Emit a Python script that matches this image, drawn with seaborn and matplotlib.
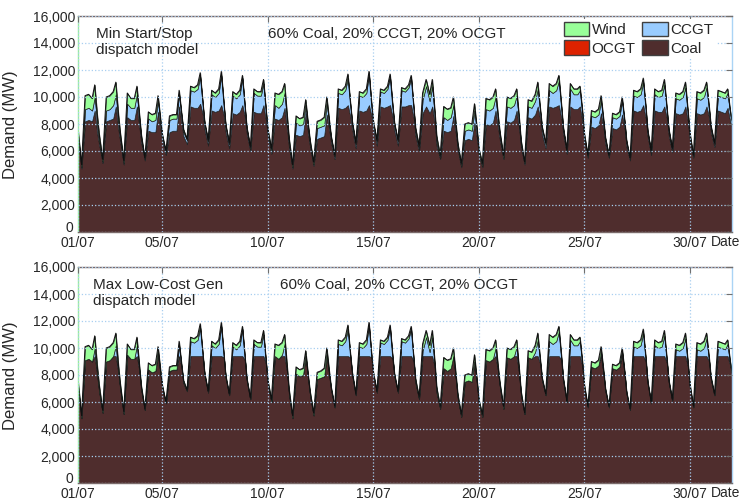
import numpy as np
import pandas as pd
import matplotlib
matplotlib.use('Agg')
from matplotlib import pyplot as plt
from matplotlib.patches import Patch
from matplotlib.ticker import FuncFormatter
from matplotlib.transforms import blended_transform_factory
import seaborn as sns

# knot hours within each day (01/07 .. 31/07), values in MW
hours = [0, 4, 8, 12, 16, 19, 22]

coal_min = [
    [6800, 4700, 8200, 8300, 8200, 9000, 7300],
    [6500, 5100, 8200, 8300, 8400, 9300, 7600],
    [6700, 5000, 8500, 8300, 8300, 9300, 7700],
    [6600, 5300, 7500, 7400, 7400, 8900, 7600],
    [6700, 5700, 7400, 7500, 7500, 9300, 8000],
    [7100, 6500, 9300, 9200, 9200, 9500, 8700],
    [7600, 6400, 9000, 8900, 9000, 9400, 8600],
    [7400, 6200, 8800, 8700, 8900, 9400, 8500],
    [7300, 6000, 8900, 8800, 8800, 9400, 8200],
    [7000, 5800, 8400, 8300, 8500, 9200, 7600],
    [6300, 4700, 7200, 7100, 7200, 8800, 7200],
    [6300, 4900, 6900, 7000, 7100, 8700, 7500],
    [6600, 5400, 9200, 9100, 9200, 9400, 8500],
    [7600, 6200, 9000, 8900, 9000, 9400, 8600],
    [7600, 6400, 9300, 9200, 9300, 9400, 8500],
    [7500, 6400, 9300, 9300, 9400, 9400, 8400],
    [7100, 6000, 8800, 9300, 8800, 9300, 8000],
    [6400, 5400, 7500, 7400, 7500, 8600, 7200],
    [6100, 4800, 6800, 6900, 6800, 8100, 6900],
    [5700, 4800, 8000, 7900, 8100, 9000, 7700],
    [6800, 5400, 8200, 8100, 8300, 9000, 7600],
    [6300, 5000, 8500, 8400, 8700, 9300, 8300],
    [7200, 6200, 9300, 9200, 9300, 9400, 8400],
    [7300, 5800, 9300, 9100, 9100, 9300, 8100],
    [6700, 5500, 7800, 7700, 7900, 8800, 7600],
    [6500, 5500, 7700, 7600, 7800, 8700, 7600],
    [6300, 5300, 9000, 8900, 9000, 9400, 8400],
    [7100, 5700, 9000, 8900, 8900, 9300, 8400],
    [7200, 5900, 8800, 8700, 8800, 9300, 8100],
    [6800, 5500, 8800, 8700, 8800, 9300, 8500],
    [7400, 6300, 9000, 8900, 8800, 9200, 8200],
]
coal_min_end = 7800

ccgt_min = [
    [300, 100, 900, 900, 800, 1000, 600],
    [300, 100, 800, 800, 1000, 900, 500],
    [300, 100, 1000, 900, 900, 900, 500],
    [300, 100, 900, 800, 900, 800, 400],
    [300, 200, 900, 900, 900, 900, 500],
    [300, 300, 1200, 1200, 1400, 2000, 700],
    [400, 300, 1200, 1100, 1300, 2200, 700],
    [400, 300, 1300, 1200, 1300, 2000, 600],
    [300, 200, 1400, 1300, 1300, 1600, 600],
    [300, 200, 1000, 900, 1000, 1100, 500],
    [300, 100, 900, 800, 800, 600, 400],
    [200, 100, 800, 800, 800, 800, 400],
    [300, 200, 1100, 1100, 1300, 2000, 800],
    [400, 300, 1100, 1100, 1300, 2300, 700],
    [400, 300, 1100, 1100, 1300, 2100, 700],
    [400, 300, 1200, 1100, 1300, 2000, 600],
    [300, 200, 1000, 1500, 900, 1500, 500],
    [300, 100, 1000, 900, 1000, 800, 400],
    [200, 100, 700, 700, 700, 900, 400],
    [200, 100, 1100, 1100, 1100, 1000, 500],
    [300, 100, 1100, 1100, 1100, 1100, 400],
    [200, 100, 800, 800, 1000, 1300, 500],
    [400, 300, 1200, 1100, 1200, 1800, 700],
    [300, 200, 1300, 1100, 1100, 1200, 500],
    [300, 100, 800, 800, 800, 900, 400],
    [300, 100, 800, 800, 800, 1000, 400],
    [300, 100, 1100, 1100, 1200, 1700, 600],
    [300, 200, 1200, 1100, 1200, 1600, 500],
    [300, 200, 1100, 1100, 1200, 1400, 500],
    [300, 100, 1100, 1100, 1200, 1400, 500],
    [300, 200, 1100, 1100, 1100, 1100, 500],
]
ccgt_min_end = 300

wind = [
    [500, 200, 1000, 1000, 900, 900, 700],
    [500, 200, 1000, 1000, 1000, 900, 600],
    [400, 200, 800, 700, 700, 600, 400],
    [300, 100, 500, 500, 500, 400, 300],
    [200, 100, 300, 300, 300, 300, 200],
    [200, 100, 300, 300, 300, 300, 200],
    [200, 100, 300, 300, 300, 300, 200],
    [200, 100, 300, 300, 300, 200, 200],
    [200, 100, 300, 300, 300, 300, 200],
    [300, 200, 900, 1000, 900, 700, 500],
    [400, 200, 500, 500, 500, 400, 300],
    [300, 200, 500, 500, 600, 500, 300],
    [200, 100, 300, 300, 300, 300, 200],
    [200, 100, 300, 300, 300, 200, 200],
    [200, 100, 200, 200, 200, 200, 200],
    [200, 100, 200, 200, 200, 200, 200],
    [300, 200, 500, 500, 500, 500, 400],
    [400, 200, 800, 800, 700, 600, 400],
    [300, 200, 500, 500, 500, 500, 300],
    [300, 200, 800, 800, 800, 600, 400],
    [300, 200, 700, 700, 700, 500, 400],
    [300, 100, 500, 500, 500, 500, 300],
    [200, 100, 500, 500, 500, 400, 300],
    [200, 100, 400, 400, 400, 300, 300],
    [300, 100, 400, 400, 400, 400, 300],
    [200, 100, 300, 300, 300, 300, 200],
    [200, 100, 400, 400, 400, 300, 300],
    [200, 100, 400, 400, 400, 400, 300],
    [200, 100, 400, 400, 400, 400, 300],
    [300, 100, 500, 500, 500, 400, 300],
    [200, 100, 400, 400, 400, 300, 300],
]
wind_end = 200

coal_max = [
    [7100, 4800, 9100, 9200, 9000, 9400, 7900],
    [6800, 5200, 9000, 9100, 9400, 9400, 8100],
    [7000, 5100, 9400, 9200, 9200, 9400, 8200],
    [6900, 5400, 8400, 8200, 8300, 9400, 8000],
    [7000, 5900, 8300, 8400, 8400, 9400, 8500],
    [7400, 6800, 9400, 9400, 9400, 9400, 9400],
    [8000, 6700, 9400, 9400, 9400, 9400, 9300],
    [7800, 6500, 9400, 9400, 9400, 9400, 9100],
    [7600, 6200, 9400, 9400, 9400, 9400, 8800],
    [7300, 6000, 9400, 9200, 9400, 9400, 8100],
    [6600, 4800, 8100, 7900, 8000, 9400, 7600],
    [6500, 5000, 7700, 7800, 7900, 9400, 7900],
    [6900, 5600, 9400, 9400, 9400, 9400, 9300],
    [8000, 6500, 9400, 9400, 9400, 9400, 9300],
    [8000, 6700, 9400, 9400, 9400, 9400, 9200],
    [7900, 6700, 9400, 9400, 9400, 9400, 9000],
    [7400, 6200, 9400, 9400, 9400, 9400, 8500],
    [6700, 5500, 8500, 8300, 8500, 9400, 7600],
    [6300, 4900, 7500, 7600, 7500, 9000, 7300],
    [5900, 4900, 9100, 9000, 9200, 9400, 8200],
    [7100, 5500, 9300, 9200, 9400, 9400, 8000],
    [6500, 5100, 9300, 9200, 9400, 9400, 8800],
    [7600, 6500, 9400, 9400, 9400, 9400, 9100],
    [7600, 6000, 9400, 9400, 9400, 9400, 8600],
    [7000, 5600, 8600, 8500, 8700, 9400, 8000],
    [6800, 5600, 8500, 8400, 8600, 9400, 8000],
    [6600, 5400, 9400, 9400, 9400, 9400, 9000],
    [7400, 5900, 9400, 9400, 9400, 9400, 8900],
    [7500, 6100, 9400, 9400, 9400, 9400, 8600],
    [7100, 5600, 9400, 9400, 9400, 9400, 9000],
    [7700, 6500, 9400, 9400, 9400, 9400, 8700],
]
coal_max_end = 8100

ccgt_max = [
    [0, 0, 0, 0, 0, 600, 0],
    [0, 0, 0, 0, 0, 800, 0],
    [0, 0, 100, 0, 0, 800, 0],
    [0, 0, 0, 0, 0, 300, 0],
    [0, 0, 0, 0, 0, 800, 0],
    [0, 0, 1100, 1000, 1200, 2100, 0],
    [0, 0, 800, 600, 900, 2200, 0],
    [0, 0, 700, 500, 800, 2000, 0],
    [0, 0, 900, 700, 700, 1600, 0],
    [0, 0, 0, 0, 100, 900, 0],
    [0, 0, 0, 0, 0, 0, 0],
    [0, 0, 0, 0, 0, 100, 0],
    [0, 0, 900, 800, 1100, 2000, 0],
    [0, 0, 700, 600, 900, 2300, 0],
    [0, 0, 1000, 900, 1200, 2100, 0],
    [0, 0, 1100, 1000, 1300, 2000, 0],
    [0, 0, 400, 1400, 300, 1400, 0],
    [0, 0, 0, 0, 0, 0, 0],
    [0, 0, 0, 0, 0, 0, 0],
    [0, 0, 0, 0, 0, 600, 0],
    [0, 0, 0, 0, 0, 700, 0],
    [0, 0, 0, 0, 300, 1200, 0],
    [0, 0, 1100, 900, 1100, 1800, 0],
    [0, 0, 1200, 800, 800, 1100, 0],
    [0, 0, 0, 0, 0, 300, 0],
    [0, 0, 0, 0, 0, 300, 0],
    [0, 0, 700, 600, 800, 1700, 0],
    [0, 0, 800, 600, 700, 1500, 0],
    [0, 0, 500, 400, 600, 1300, 0],
    [0, 0, 500, 400, 600, 1300, 0],
    [0, 0, 700, 600, 500, 900, 0],
]
ccgt_max_end = 0

tick_days = [0, 4, 9, 14, 19, 24, 29]
tick_labels = ['01/07', '05/07', '10/07', '15/07', '20/07', '25/07', '30/07']
yticks = [0, 2000, 4000, 6000, 8000, 10000, 12000, 14000, 16000]

panel_titles = ['Min Start/Stop\ndispatch model', 'Max Low-Cost Gen\ndispatch model']
mix_label = '60% Coal, 20% CCGT, 20% OCGT'

colors = {'Coal': '#4f2d2d', 'OCGT': '#dd2200', 'CCGT': '#99ccff', 'Wind': '#99ff99'}

sns.set_style('white')
plt.rcParams['font.family'] = ['Liberation Sans', 'DejaVu Sans']
plt.rcParams['font.size'] = 10

t = [d + h / 24 for d in range(31) for h in hours] + [31]


def flat(rows, end):
    return list(np.ravel(rows)) + [end]


def ylab(v, p):
    # the zero label is drawn separately, resting on the axis line
    return '' if v == 0 else f'{int(v):,}'


panels = [
    (flat(coal_min, coal_min_end), flat(ccgt_min, ccgt_min_end)),
    (flat(coal_max, coal_max_end), flat(ccgt_max, ccgt_max_end)),
]
w = flat(wind, wind_end)

fig = plt.figure(figsize=(7.42, 5.01), dpi=100)
axes = [fig.add_axes([78 / 742, 1 - 232 / 501, 654 / 742, 216 / 501]),
        fig.add_axes([78 / 742, 1 - 483 / 501, 654 / 742, 216 / 501])]
title_pos = [(18, 11), (15, 11)]
mix_pos = [(190, 11), (202, 11)]

for i, (ax, (coal, ccgt), title) in enumerate(zip(axes, panels, panel_titles)):
    ax.stackplot(t, coal, ccgt, w,
                 colors=[colors['Coal'], colors['CCGT'], colors['Wind']],
                 edgecolor='#202020', linewidth=0.5)
    df = pd.DataFrame({'t': t, 'total': np.array(coal) + np.array(ccgt) + np.array(w)})
    sns.lineplot(data=df, x='t', y='total', ax=ax, color='#101010', linewidth=0.7)

    ax.set_xlim(0, 31)
    ax.set_ylim(0, 16000)
    ax.set_xticks(tick_days)
    ax.set_xticklabels(tick_labels)
    ax.set_yticks(yticks)
    ax.yaxis.set_major_formatter(FuncFormatter(ylab))
    trans = blended_transform_factory(ax.transAxes, ax.transData)
    ax.text(-5 / 654, yticks[0], '0', transform=trans, ha='right', va='baseline',
            fontsize=10)
    ax.set_xlabel('')
    ax.set_ylabel('Demand (MW)', fontsize=12)
    ax.yaxis.set_label_coords(-60 / 654, 0.495)
    ax.tick_params(direction='in', top=True, right=True, length=4,
                   labelsize=10, color='#707070')
    ax.tick_params(axis='x', pad=3)
    ax.tick_params(axis='y', pad=2)
    ax.grid(True, color='#a8cff0', linestyle=':', linewidth=0.9)
    ax.set_axisbelow(False)
    for sp in ax.spines.values():
        sp.set_color('#7a6a6a')
        sp.set_linewidth(1.0)
    ax.spines['left'].set_color('#99ee99')
    ax.spines['right'].set_color('#aad4f5')

    tx, ty = title_pos[i]
    ax.text(tx / 654, 1 - ty / 216, title, transform=ax.transAxes,
            va='top', ha='left', fontsize=11, linespacing=1.2)
    mx, my = mix_pos[i]
    ax.text(mx / 654, 1 - my / 216, mix_label, transform=ax.transAxes,
            va='top', ha='left', fontsize=11)
    ax.text(633 / 654, -3 / 216, 'Date', transform=ax.transAxes,
            va='top', ha='left', fontsize=10)

handles = [Patch(facecolor=colors[k], edgecolor='#404040', label=k)
           for k in ['Wind', 'OCGT', 'CCGT', 'Coal']]
leg = axes[0].legend(handles=handles, ncol=2, loc='upper right',
                     bbox_to_anchor=(638 / 654, 1 - 3 / 216), frameon=True, fancybox=False,
                     handlelength=1.65, handleheight=1.05, handletextpad=0.15,
                     columnspacing=0.45, labelspacing=0.2, borderpad=0.2,
                     borderaxespad=0, fontsize=11)
leg.get_frame().set_edgecolor('none')
leg.get_frame().set_facecolor('white')
leg.get_frame().set_alpha(1)

fig.savefig('out.png', dpi=100)
